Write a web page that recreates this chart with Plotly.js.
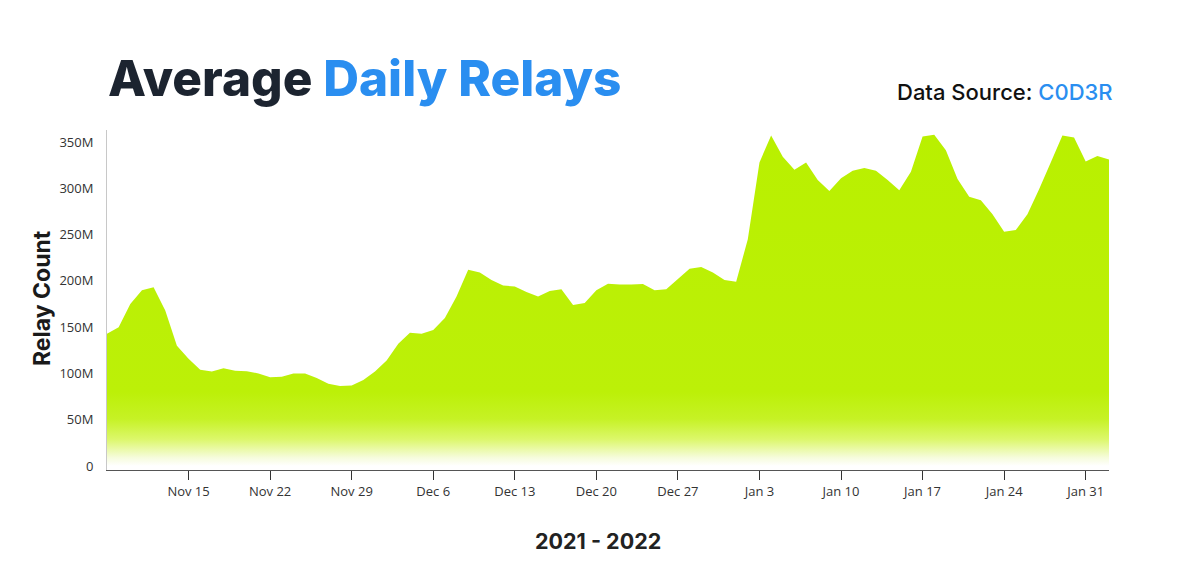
<!DOCTYPE html>
<html>
<head>
<meta charset="utf-8">
<script src="https://cdn.plot.ly/plotly-3.0.1.min.js"></script>
<style>
  html, body { margin: 0; padding: 0; background: #ffffff; }
  #chart { width: 1200px; height: 586px; }
</style>
</head>
<body>
<div id="chart"></div>
<script>
// ---- Data (daily average relays, in millions) ----
const dates = [
  '2021-11-08','2021-11-09','2021-11-10','2021-11-11','2021-11-12','2021-11-13','2021-11-14',
  '2021-11-15','2021-11-16','2021-11-17','2021-11-18','2021-11-19','2021-11-20','2021-11-21',
  '2021-11-22','2021-11-23','2021-11-24','2021-11-25','2021-11-26','2021-11-27','2021-11-28',
  '2021-11-29','2021-11-30','2021-12-01','2021-12-02','2021-12-03','2021-12-04','2021-12-05',
  '2021-12-06','2021-12-07','2021-12-08','2021-12-09','2021-12-10','2021-12-11','2021-12-12',
  '2021-12-13','2021-12-14','2021-12-15','2021-12-16','2021-12-17','2021-12-18','2021-12-19',
  '2021-12-20','2021-12-21','2021-12-22','2021-12-23','2021-12-24','2021-12-25','2021-12-26',
  '2021-12-27','2021-12-28','2021-12-29','2021-12-30','2021-12-31','2022-01-01','2022-01-02',
  '2022-01-03','2022-01-04','2022-01-05','2022-01-06','2022-01-07','2022-01-08','2022-01-09',
  '2022-01-10','2022-01-11','2022-01-12','2022-01-13','2022-01-14','2022-01-15','2022-01-16',
  '2022-01-17','2022-01-18','2022-01-19','2022-01-20','2022-01-21','2022-01-22','2022-01-23',
  '2022-01-24','2022-01-25','2022-01-26','2022-01-27','2022-01-28','2022-01-29','2022-01-30',
  '2022-01-31','2022-02-01','2022-02-02'
];
const relaysMillions = [
  143, 150, 175, 190, 193, 168, 130,
  116, 104, 102, 105.5, 103, 102.5, 100,
  96, 96.5, 100, 100, 95, 89, 86.4,
  87, 93, 102, 114, 132, 144, 143,
  147, 160, 183, 212, 209, 201, 195,
  194, 188, 183, 189, 191, 174, 176,
  190, 197, 196, 196, 196.5, 190, 191,
  202, 213, 215, 209, 201, 199, 245,
  328, 357, 334, 320, 328, 309, 297,
  311, 319, 322, 319, 309, 298, 318,
  356, 358, 341, 310, 291, 287, 272,
  253, 255, 272, 299, 328, 357, 355,
  329, 335, 331
];
const xTickVals = ['2021-11-15','2021-11-22','2021-11-29','2021-12-06','2021-12-13','2021-12-20',
                   '2021-12-27','2022-01-03','2022-01-10','2022-01-17','2022-01-24','2022-01-31'];
const xTickText = ['Nov 15','Nov 22','Nov 29','Dec 6','Dec 13','Dec 20',
                   'Dec 27','Jan 3','Jan 10','Jan 17','Jan 24','Jan 31'];
const yTickVals = [0, 50, 100, 150, 200, 250, 300, 350];
const yTickText = ['0', '50M', '100M', '150M', '200M', '250M', '300M', '350M'];

const titleDark = 'Average';
const titleBlue = 'Daily Relays';
const sourceLabel = 'Data Source:';
const sourceName = 'C0D3R';
const xTitle = '2021 - 2022';
const yTitle = 'Relay Count';

const lime = '#b9f000';
const blue = '#2a8ef0';

const trace = {
  type: 'scatter',
  x: dates,
  y: relaysMillions,
  mode: 'none',
  fill: 'tozeroy',
  fillgradient: {
    type: 'vertical',
    start: 0,
    stop: 363,
    colorscale: [
      [0, '#ffffff'],
      [0.025, '#f6fcdc'],
      [0.08, '#dcf76a'],
      [0.14, '#c6f225'],
      [0.22, '#bcf008'],
      [1, lime]
    ]
  },
  hoverinfo: 'x+y'
};

// plot area in pixels: x 107..1109, y 130..470
const px = (x) => (x - 107) / 1002;
const py = (y) => (470 - y) / 340;

const layout = {
  width: 1200,
  height: 586,
  paper_bgcolor: '#ffffff',
  plot_bgcolor: '#ffffff',
  showlegend: false,
  margin: { l: 107, r: 91, t: 130, b: 116, pad: 0 },
  font: { family: 'Open Sans, sans-serif', color: '#333333' },
  xaxis: {
    type: 'date',
    range: ['2021-11-08', '2022-02-02'],
    tickmode: 'array',
    tickvals: xTickVals,
    ticktext: xTickText,
    ticks: 'outside',
    ticklen: 9,
    tickwidth: 1,
    tickcolor: '#333333',
    showline: true,
    linecolor: '#555555',
    linewidth: 1,
    showgrid: false,
    zeroline: false,
    tickfont: { family: 'Open Sans, sans-serif', size: 13, color: '#333333' },
    automargin: false,
    fixedrange: true
  },
  yaxis: {
    range: [-4.3, 363],
    tickmode: 'array',
    tickvals: yTickVals,
    ticktext: yTickText,
    ticks: '',
    showline: true,
    linecolor: '#c8c8c8',
    linewidth: 1,
    showgrid: false,
    zeroline: false,
    ticklabelstandoff: 10,
    tickfont: { family: 'Open Sans, sans-serif', size: 13, color: '#333333' },
    automargin: false,
    fixedrange: true
  },
  annotations: [
    {
      xref: 'paper', yref: 'paper',
      x: px(106), y: py(78),
      xanchor: 'left', yanchor: 'middle',
      showarrow: false,
      text: '<span style="color:#1c2430">' + titleDark + '</span> <span style="color:' + blue + '">' + titleBlue + '</span>',
      font: { family: 'Inter, sans-serif', size: 49.5, weight: 800 }
    },
    {
      xref: 'paper', yref: 'paper',
      x: px(1115), y: py(92),
      xanchor: 'right', yanchor: 'middle',
      showarrow: false,
      text: '<span style="color:#111111">' + sourceLabel + '</span> <span style="color:' + blue + '">' + sourceName + '</span>',
      font: { family: 'Inter, sans-serif', size: 22, weight: 500 }
    },
    {
      xref: 'paper', yref: 'paper',
      x: px(598), y: py(541),
      xanchor: 'center', yanchor: 'middle',
      showarrow: false,
      text: xTitle,
      font: { family: 'Inter, sans-serif', size: 21.5, weight: 700, color: '#222222' }
    },
    {
      xref: 'paper', yref: 'paper',
      x: px(42), y: py(298),
      xanchor: 'center', yanchor: 'middle',
      textangle: -90,
      showarrow: false,
      text: yTitle,
      font: { family: 'Inter, sans-serif', size: 23, weight: 700, color: '#1a1a1a' }
    }
  ]
};

Plotly.newPlot('chart', [trace], layout, { displayModeBar: false, staticPlot: true });
</script>
</body>
</html>
